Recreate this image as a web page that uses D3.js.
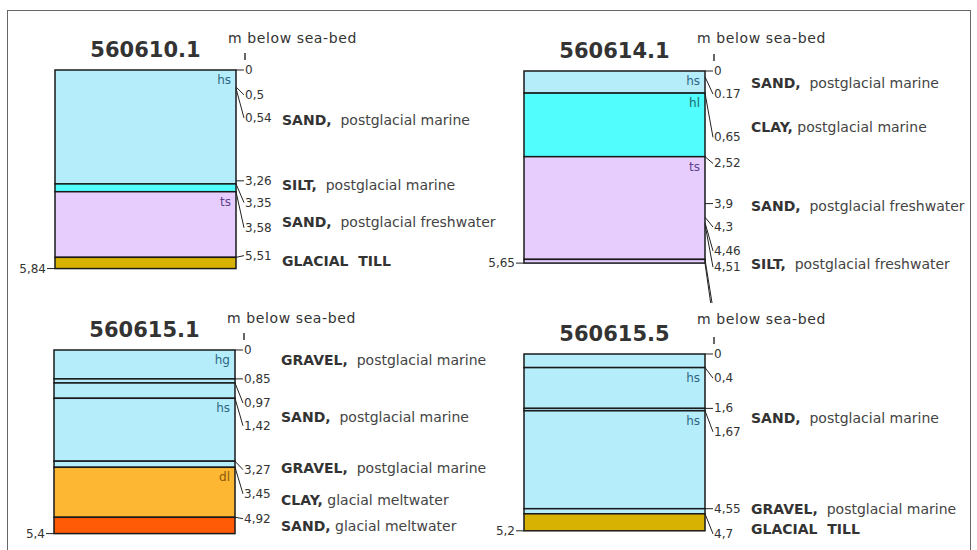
<!DOCTYPE html>
<html>
<head>
<meta charset="utf-8">
<script src="https://cdn.jsdelivr.net/npm/d3@7"></script>
<style>
  body { margin: 0; background: #fff; }
  svg text { font-family: "DejaVu Sans", Verdana, sans-serif; white-space: pre; }
</style>
</head>
<body>
<svg id="chart" width="977" height="550"></svg>
<script>
// ---- Borehole 560610.1 ----
const layerTop610  = [0, 3.35, 3.58, 5.51];
const layerBase610 = [3.35, 3.58, 5.51, 5.84];
const layerUnit610 = ["hs", "hl", "ts", "till"];
const layerCode610 = ["hs", "", "ts", ""];
const depthMarks610 = [0, 0.5, 0.54, 3.26, 3.35, 3.58, 5.51];
const depthText610  = ["0", "0,5", "0,54", "3,26", "3,35", "3,58", "5,51"];
const depthSlot610  = [0, 0.73, 1.41, 3.26, 3.9, 4.64, 5.46];
const lithology610  = ["SAND,", "SILT,", "SAND,", "GLACIAL  TILL"];
const origin610     = ["  postglacial marine", "  postglacial marine", "  postglacial freshwater", ""];
const lithSlot610   = [1.47, 3.37, 4.46, 5.63];

// ---- Borehole 560614.1 ----
const layerTop614  = [0, 0.65, 2.52, 5.54];
const layerBase614 = [0.65, 2.52, 5.54, 5.65];
const layerUnit614 = ["hs", "hl", "ts", "ts"];
const layerCode614 = ["hs", "hl", "ts", ""];
const depthMarks614 = [0, 0.17, 0.65, 2.52, 3.9, 4.3, 4.46, 4.51, 5.54, 5.65];
const depthText614  = ["0", "0.17", "0,65", "2,52", "3,9", "4,3", "4,46", "4,51", "", ""];
const depthSlot614  = [0, 0.68, 1.95, 2.72, 3.9, 4.59, 5.29, 5.77, 7.0, 7.3];
const lithology614  = ["SAND,", "CLAY,", "SAND,", "SILT,"];
const origin614     = ["  postglacial marine", " postglacial marine", "  postglacial freshwater", "  postglacial freshwater"];
const lithSlot614   = [0.35, 1.66, 3.96, 5.68];

// ---- Borehole 560615.1 ----
const layerTop615a  = [0, 0.85, 0.97, 1.42, 3.27, 3.45, 4.92];
const layerBase615a = [0.85, 0.97, 1.42, 3.27, 3.45, 4.92, 5.4];
const layerUnit615a = ["hs", "hs", "hs", "hs", "hs", "dl", "ds"];
const layerCode615a = ["hg", "", "", "hs", "", "dl", ""];
const depthMarks615a = [0, 0.85, 0.97, 1.42, 3.27, 3.45, 4.92];
const depthText615a  = ["0", "0,85", "0,97", "1,42", "3,27", "3,45", "4,92"];
const depthSlot615a  = [0, 0.85, 1.56, 2.23, 3.52, 4.23, 4.96];
const lithology615a  = ["GRAVEL,", "SAND,", "GRAVEL,", "CLAY,", "SAND,"];
const origin615a     = ["  postglacial marine", "  postglacial marine", "  postglacial marine", " glacial meltwater", " glacial meltwater"];
const lithSlot615a   = [0.29, 1.97, 3.46, 4.4, 5.17];

// ---- Borehole 560615.5 ----
const layerTop615b  = [0, 0.4, 1.6, 1.67, 4.55, 4.7];
const layerBase615b = [0.4, 1.6, 1.67, 4.55, 4.7, 5.2];
const layerUnit615b = ["hs", "hs", "hs", "hs", "hs", "till"];
const layerCode615b = ["", "hs", "", "hs", "", ""];
const depthMarks615b = [0, 0.4, 1.6, 1.67, 4.55, 4.7];
const depthText615b  = ["0", "0,4", "1,6", "1,67", "4,55", "4,7"];
const depthSlot615b  = [0, 0.71, 1.6, 2.29, 4.55, 5.29];
const lithology615b  = ["SAND,", "GRAVEL,", "GLACIAL  TILL"];
const origin615b     = ["  postglacial marine", "  postglacial marine", ""];
const lithSlot615b   = [1.88, 4.55, 5.14];

const bottomText = ["5,84", "5,65", "5,4", "5,2"];
const boreholes  = ["560610.1", "560614.1", "560615.1", "560615.5"];

// fill per geological unit
const unitFill = {
  hs: "#b5edfb", hl: "#52fdfd", ts: "#e6cdfd",
  till: "#d7b203", dl: "#fdb733", ds: "#ff5a06"
};
const codeFill = { hs: "#2d6683", hl: "#1d6a6e", ts: "#5e4290", hg: "#2d6683", dl: "#8a5a05" };

const PX_PER_M = 34;
const BOX_W = 181;

const svg = d3.select("#chart");

// outer frame
svg.append("rect")
  .attr("x", 7.5).attr("y", 10.5).attr("width", 963).attr("height", 560)
  .attr("fill", "none").attr("stroke", "#666").attr("stroke-width", 1);

// clip for the upper row so overflowing leaders stop above the lower row
svg.append("defs").append("clipPath").attr("id", "upperRow")
  .append("rect").attr("x", 0).attr("y", 0).attr("width", 977).attr("height", 303);

function makePanel(cfg) {
  const g = svg.append("g");
  if (cfg.clip) g.attr("clip-path", "url(#upperRow)");
  const total = d3.max(cfg.base);
  const y = d3.scaleLinear().domain([0, total]).range([cfg.top, cfg.top + total * PX_PER_M]);
  const x0 = cfg.left, x1 = cfg.left + BOX_W;

  const layers = d3.range(cfg.tops.length).map(i => ({
    top: cfg.tops[i], base: cfg.base[i], unit: cfg.unit[i], code: cfg.code[i]
  }));

  // title
  g.append("text")
    .attr("x", (x0 + x1) / 2).attr("y", cfg.top - 20)
    .attr("text-anchor", "middle").attr("dominant-baseline", "central")
    .attr("font-size", 21).attr("font-weight", "bold").attr("fill", "#333")
    .text(cfg.name);

  // axis caption and small marker above zero
  g.append("text")
    .attr("x", x1 - 8).attr("y", cfg.top - cfg.captionGap)
    .attr("dominant-baseline", "central")
    .attr("font-size", 14).attr("letter-spacing", 0.6).attr("fill", "#333")
    .text("m below sea-bed");
  g.append("line")
    .attr("x1", x1 + 9).attr("x2", x1 + 9)
    .attr("y1", cfg.top - 17).attr("y2", cfg.top - 10)
    .attr("stroke", "#333").attr("stroke-width", 1.5);

  // layers
  g.selectAll("rect.layer").data(layers).join("rect")
    .attr("class", "layer")
    .attr("x", x0).attr("width", BOX_W)
    .attr("y", d => y(d.top)).attr("height", d => y(d.base) - y(d.top))
    .attr("fill", d => unitFill[d.unit])
    .attr("stroke", "#1a1a1a").attr("stroke-width", 1.5);

  // unit codes
  g.selectAll("text.code").data(layers.filter(d => d.code)).join("text")
    .attr("class", "code")
    .attr("x", x1 - 5).attr("y", d => y(d.top) + 10)
    .attr("text-anchor", "end").attr("dominant-baseline", "central")
    .attr("font-size", 12).attr("fill", d => codeFill[d.code])
    .text(d => d.code);

  // depth marks with leaders
  const marks = d3.range(cfg.marks.length).map(i => ({
    d: cfg.marks[i], label: cfg.markText[i], slot: cfg.slot[i]
  }));
  g.selectAll("path.leader").data(marks).join("path")
    .attr("class", "leader")
    .attr("d", d => d3.line()([[x1, y(d.d)], [x1 + 8, y(d.slot)]]))
    .attr("fill", "none").attr("stroke", "#222").attr("stroke-width", 1);
  g.selectAll("text.depth").data(marks.filter(d => d.label)).join("text")
    .attr("class", "depth")
    .attr("x", x1 + 9).attr("y", d => y(d.slot))
    .attr("dominant-baseline", "central")
    .attr("font-size", 12).attr("fill", "#333")
    .text(d => d.label);

  // final depth on the left
  g.append("line")
    .attr("x1", x0 - 8).attr("x2", x0)
    .attr("y1", y(total)).attr("y2", y(total))
    .attr("stroke", "#222").attr("stroke-width", 1);
  g.append("text")
    .attr("x", x0 - 9).attr("y", y(total))
    .attr("text-anchor", "end").attr("dominant-baseline", "central")
    .attr("font-size", 12).attr("fill", "#333")
    .text(cfg.bottom);

  // lithology descriptions
  const desc = d3.range(cfg.lith.length).map(i => ({
    lith: cfg.lith[i], origin: cfg.origin[i], slot: cfg.lithSlot[i]
  }));
  const t = g.selectAll("text.desc").data(desc).join("text")
    .attr("class", "desc")
    .attr("x", x1 + 46).attr("y", d => y(d.slot))
    .attr("dominant-baseline", "central")
    .attr("font-size", 14);
  t.append("tspan").attr("font-weight", "bold").attr("fill", "#333").text(d => d.lith);
  t.append("tspan").attr("fill", "#444").text(d => d.origin);
}

makePanel({ name: boreholes[0], left: 55, top: 70, clip: true, captionGap: 32,
  tops: layerTop610, base: layerBase610, unit: layerUnit610, code: layerCode610,
  marks: depthMarks610, markText: depthText610, slot: depthSlot610,
  lith: lithology610, origin: origin610, lithSlot: lithSlot610, bottom: bottomText[0] });

makePanel({ name: boreholes[1], left: 524, top: 71, clip: true, captionGap: 33,
  tops: layerTop614, base: layerBase614, unit: layerUnit614, code: layerCode614,
  marks: depthMarks614, markText: depthText614, slot: depthSlot614,
  lith: lithology614, origin: origin614, lithSlot: lithSlot614, bottom: bottomText[1] });

makePanel({ name: boreholes[2], left: 54, top: 350, clip: false, captionGap: 32,
  tops: layerTop615a, base: layerBase615a, unit: layerUnit615a, code: layerCode615a,
  marks: depthMarks615a, markText: depthText615a, slot: depthSlot615a,
  lith: lithology615a, origin: origin615a, lithSlot: lithSlot615a, bottom: bottomText[2] });

makePanel({ name: boreholes[3], left: 524, top: 354, clip: false, captionGap: 35,
  tops: layerTop615b, base: layerBase615b, unit: layerUnit615b, code: layerCode615b,
  marks: depthMarks615b, markText: depthText615b, slot: depthSlot615b,
  lith: lithology615b, origin: origin615b, lithSlot: lithSlot615b, bottom: bottomText[3] });
</script>
</body>
</html>
